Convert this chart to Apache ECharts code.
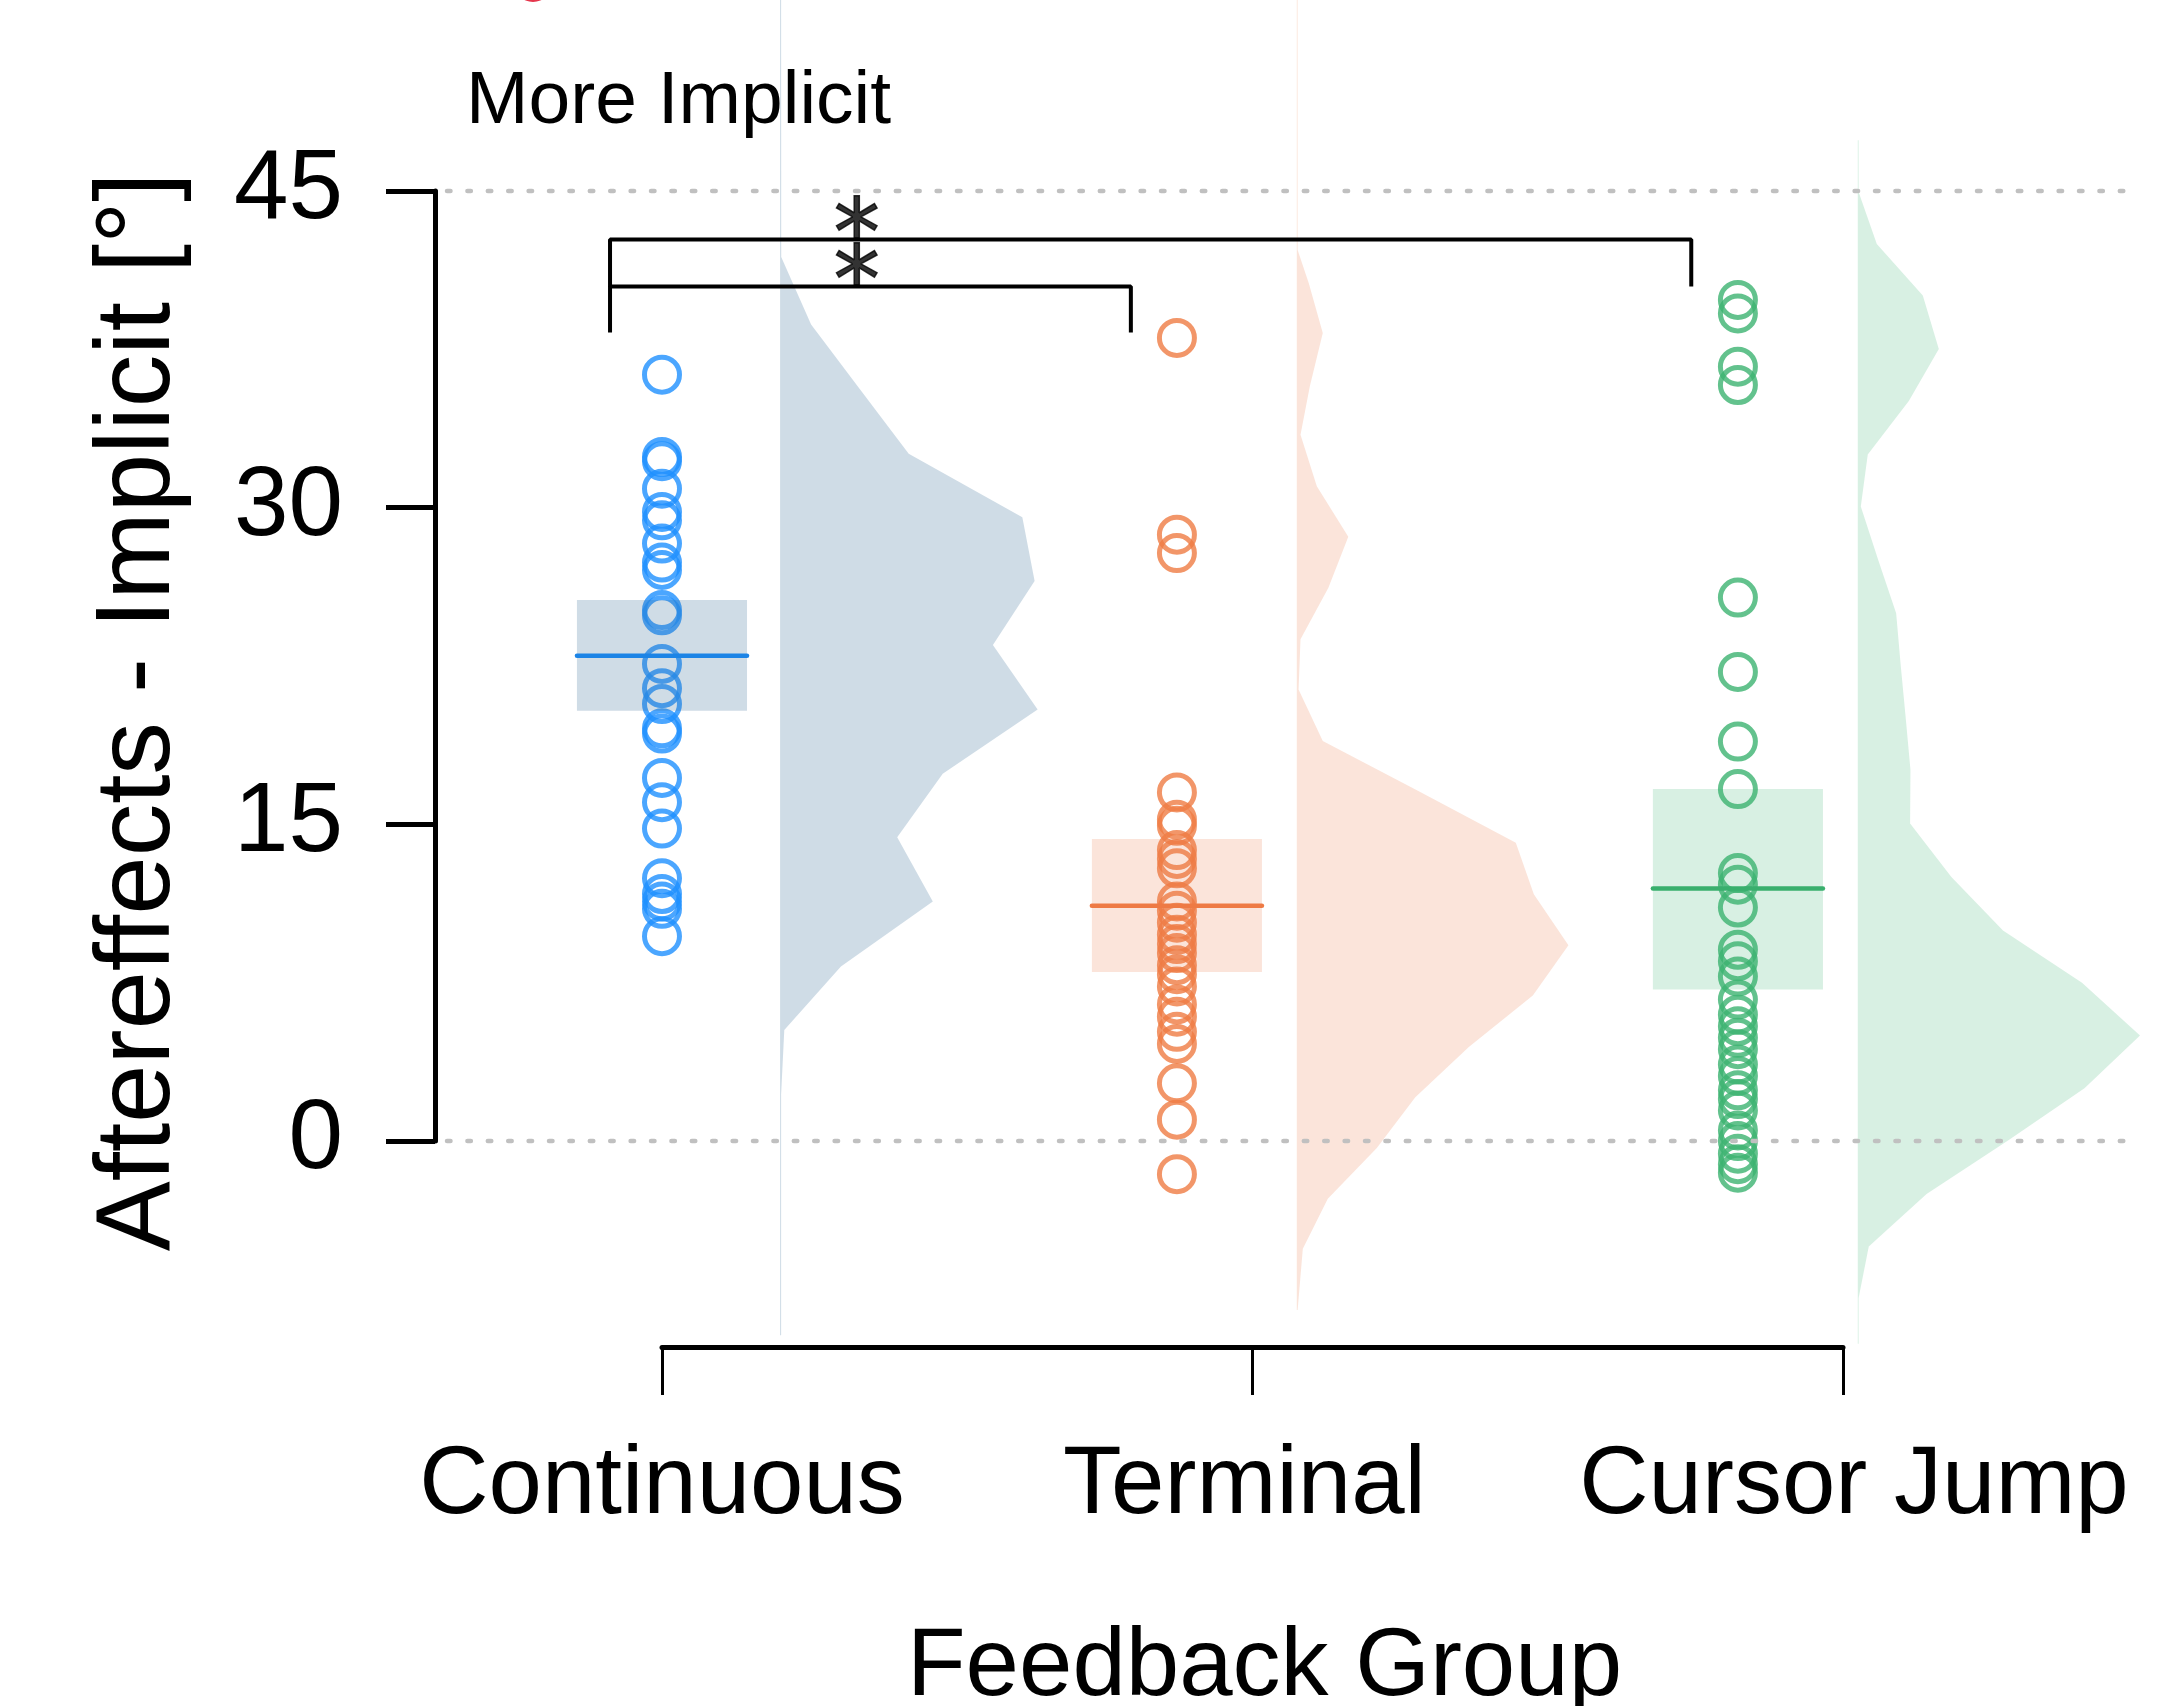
<!DOCTYPE html>
<html>
<head>
<meta charset="utf-8">
<script src="https://cdn.jsdelivr.net/npm/echarts@6/dist/echarts.min.js"></script>
<style>
html,body{margin:0;padding:0;background:#fff;}
#chart{width:2158px;height:1706px;}
</style>
</head>
<body>
<div id="chart"></div>
<script>
// ---------------- data ----------------
const categories = ['Continuous', 'Terminal', 'Cursor Jump'];
const yTickMin = 0, yTickMax = 45, yTickStep = 15;

// x positions (on the value scale where the axis ticks sit at 1, 2, 3)
const groupX = [1.0, 1.872, 2.822];
const densityBaseX = [1.2, 2.075, 3.025];

const continuousValues = [36.3, 32.4, 32.2, 30.9, 29.8, 29.4, 28.3, 27.4, 27.05, 25.15, 24.9, 22.6,
  21.45, 20.7, 19.55, 19.3, 17.2, 16.05, 14.8, 12.45, 11.7, 11.35, 11.0, 9.7];
const terminalValues = [38.04, 28.72, 27.85, 16.51, 15.22, 14.93, 13.78, 13.36, 12.92, 11.35, 10.91,
  10.34, 9.77, 9.33, 8.9, 8.33, 7.9, 7.32, 6.47, 5.89, 5.17, 4.6, 2.73, 1.01, -1.57];
const cursorJumpValues = [39.84, 39.2, 36.68, 35.81, 25.74, 22.22, 18.92, 16.67, 12.69, 12.14, 11.06,
  9.06, 8.52, 7.79, 6.7, 5.98, 5.44, 4.89, 4.35, 3.62, 3.08, 2.4, 1.99, 1.45, 0.5, 0.0, -0.6, -1.1, -1.5];

const groupMeans = [22.98, 11.14, 11.96];
const ciLower = [20.38, 8.0, 7.18];
const ciUpper = [25.63, 14.3, 16.67];

// density outlines: y values and widths (in x-scale units)
const continuousDensityY = [54.05, 41.87, 38.68, 35.6, 32.55, 29.54, 26.53, 23.49, 20.44, 17.4, 14.39, 11.35, 8.26, 5.26, 2.2, -9.2];
const continuousDensityW = [0.0017, 0.0019, 0.0525, 0.1355, 0.2178, 0.4102, 0.4310, 0.3604, 0.4361, 0.2754, 0.1983, 0.2586, 0.1030, 0.0071, 0.0017, 0.0017];
const terminalDensityY = [54.05, 42.2, 40.63, 38.27, 35.74, 33.45, 31.01, 28.62, 26.21, 23.77, 21.39, 18.95, 16.57, 14.13, 11.69, 9.27, 6.89, 4.45, 2.07, -0.33, -2.73, -5.1, -8.0];
const terminalDensityW = [0.0014, 0.0014, 0.0203, 0.0440, 0.0220, 0.0063, 0.0339, 0.0872, 0.0535, 0.0063, 0.0030, 0.0440, 0.2066, 0.3709, 0.4014, 0.4600, 0.3997, 0.2913, 0.2007, 0.1355, 0.0525, 0.0102, 0.0014];
const cursorDensityY = [47.4, 44.95, 42.49, 40.05, 37.52, 35.05, 32.52, 30.06, 27.5, 25.0, 22.5, 20.0, 17.58, 15.04, 12.5, 9.97, 7.5, 5.0, 2.5, 0.05, -2.51, -5.0, -7.44, -9.6];
const cursorDensityW = [0.0014, 0.0014, 0.0322, 0.1101, 0.1372, 0.0864, 0.0169, 0.0051, 0.0349, 0.0650, 0.0728, 0.0813, 0.0892, 0.0886, 0.1585, 0.2459, 0.3797, 0.4779, 0.3839, 0.2557, 0.1165, 0.0186, 0.0014, 0.0014];

// significance brackets and reference lines
const bracketUpper = [[0.912, 38.3], [0.912, 42.7], [2.743, 42.7], [2.743, 40.48]];
const bracketLower = [[0.912, 40.48], [1.794, 40.48], [1.794, 38.3]];
const starMarks = [[1.33, 42.7], [1.33, 40.48]];
const refLineValues = [0, 45];
const refLineSpan = [0.6156, 3.487];

// ---------------- styles ----------------
const FONT = '"Liberation Sans", Arial, Helvetica, sans-serif';
const pointColors = ['#1E90FF', '#EF7C44', '#3CB371'];
const meanColors = ['#1C84E6', '#EE7A44', '#39AF6D'];
const fillColors = ['rgba(63,114,155,0.25)', 'rgba(235,120,70,0.2)', 'rgba(60,179,113,0.2)'];
const groupValues = [continuousValues, terminalValues, cursorJumpValues];
const densities = [[continuousDensityY, continuousDensityW], [terminalDensityY, terminalDensityW], [cursorDensityY, cursorDensityW]];
const boxHalf = 0.144;
const labelStyleKeys = ['c0', 'c1', 'c2'];

const series = [];

densities.forEach(function (d, idx) {
  const ys = d[0], ws = d[1];
  series.push({
    type: 'custom', xAxisIndex: 0, yAxisIndex: 0, z: 1, silent: true,
    data: [[densityBaseX[idx], ys[0]]],
    renderItem: function (params, api) {
      const base = densityBaseX[idx];
      const pts = [api.coord([base, ys[0]])];
      for (let i = 0; i < ys.length; i++) pts.push(api.coord([base + ws[i], ys[i]]));
      pts.push(api.coord([base, ys[ys.length - 1]]));
      return { type: 'polygon', shape: { points: pts }, style: { fill: fillColors[idx], stroke: null } };
    }
  });
});

groupValues.forEach(function (vals, idx) {
  series.push({
    type: 'scatter', xAxisIndex: 0, yAxisIndex: 0, z: 2, silent: true,
    symbol: 'circle', symbolSize: 35,
    itemStyle: { color: 'rgba(0,0,0,0)', borderColor: pointColors[idx], borderWidth: 5 },
    data: vals.map(function (v) { return [groupX[idx], v]; })
  });
});

series.push({
  type: 'custom', xAxisIndex: 0, yAxisIndex: 0, z: 3, silent: true,
  data: groupX.map(function (x, i) { return [x, ciLower[i], ciUpper[i], groupMeans[i], i]; }),
  renderItem: function (params, api) {
    const x = api.value(0), lo = api.value(1), hi = api.value(2), m = api.value(3), i = api.value(4);
    const p1 = api.coord([x - boxHalf, hi]);
    const p2 = api.coord([x + boxHalf, lo]);
    const m1 = api.coord([x - boxHalf, m]);
    const m2 = api.coord([x + boxHalf, m]);
    return {
      type: 'group',
      children: [
        { type: 'rect', shape: { x: p1[0], y: p1[1], width: p2[0] - p1[0], height: p2[1] - p1[1] }, style: { fill: fillColors[i] } },
        { type: 'line', shape: { x1: m1[0], y1: m1[1], x2: m2[0], y2: m2[1] }, style: { stroke: meanColors[i], lineWidth: 4.5, lineCap: 'round' } }
      ]
    };
  }
});

refLineValues.forEach(function (v) {
  series.push({
    type: 'line', xAxisIndex: 0, yAxisIndex: 0, z: 6, silent: true, symbol: 'none',
    data: [[refLineSpan[0], v], [refLineSpan[1], v]],
    lineStyle: { color: '#C0C0C0', width: 4.5, type: [3.5, 16.9], cap: 'round', dashOffset: -12 }
  });
});

[bracketUpper, bracketLower].forEach(function (b) {
  series.push({
    type: 'line', xAxisIndex: 0, yAxisIndex: 0, z: 7, silent: true, symbol: 'none',
    data: b, lineStyle: { color: '#000', width: 4 }
  });
});

series.push({
  type: 'scatter', xAxisIndex: 0, yAxisIndex: 0, z: 8, silent: true,
  symbolSize: 1, itemStyle: { color: 'rgba(0,0,0,0)' },
  data: starMarks,
  label: { show: true, position: 'inside', formatter: '*', fontSize: 92, fontWeight: 'normal', color: '#000',
    fontFamily: '"DejaVu Sans", sans-serif', offset: [0, 2], textBorderColor: '#000', textBorderWidth: 1.5 }
});

const option = {
  animation: false,
  backgroundColor: '#ffffff',
  title: {
    text: 'More Implicit', left: 466, top: 65, padding: 0,
    textStyle: { fontSize: 75, fontWeight: 'normal', color: '#000', fontFamily: FONT }
  },
  grid: [
    { left: 435, right: 0, top: 0, bottom: 282, outerBoundsMode: 'none', containLabel: false },
    { left: 435, width: 100, top: 191, bottom: 565, outerBoundsMode: 'none', containLabel: false },
    { left: 662, right: 315, top: 1300, bottom: 359, outerBoundsMode: 'none', containLabel: false }
  ],
  xAxis: [
    { gridIndex: 0, type: 'value', min: 0.6156, max: 3.5334, show: false },
    { gridIndex: 1, type: 'value', min: 0, max: 1, show: false },
    {
      gridIndex: 2, type: 'category', data: categories, boundaryGap: false, position: 'bottom',
      axisLine: { onZero: false, lineStyle: { color: '#000', width: 5 } },
      axisTick: { interval: 0, length: 48, lineStyle: { color: '#000', width: 3 } },
      axisLabel: {
        interval: 0, fontSize: 96, color: '#000', margin: 92, fontFamily: FONT,
        formatter: function (v, i) { return '{' + labelStyleKeys[i] + '|' + v + '}'; },
        rich: {
          c0: { fontSize: 96, fontFamily: FONT, color: '#000' },
          c1: { fontSize: 96, fontFamily: FONT, color: '#000', padding: [0, 16, 0, 0] },
          c2: { fontSize: 96, fontFamily: FONT, color: '#000', padding: [0, 0, 0, 22] }
        }
      },
      splitLine: { show: false },
      name: 'Feedback Group', nameLocation: 'middle', nameGap: 274,
      nameTextStyle: { fontSize: 96, color: '#000', fontFamily: FONT, padding: [0, 0, 0, 24] }
    }
  ],
  yAxis: [
    {
      gridIndex: 0, type: 'value', min: -13.405, max: 54.047,
      axisLine: { show: false, onZero: false }, axisTick: { show: false }, axisLabel: { show: false }, splitLine: { show: false },
      name: 'Aftereffects - Implicit [°]', nameLocation: 'middle', nameGap: 242,
      nameTextStyle: { fontSize: 105, color: '#000', fontFamily: FONT }
    },
    {
      gridIndex: 1, type: 'value', min: yTickMin, max: yTickMax, interval: yTickStep,
      axisLine: { show: true, onZero: false, lineStyle: { color: '#000', width: 5 } },
      axisTick: { show: true, length: 49, lineStyle: { color: '#000', width: 5 } },
      axisLabel: { fontSize: 98, color: '#000', margin: 92, fontFamily: FONT },
      splitLine: { show: false }
    },
    { gridIndex: 2, type: 'value', min: 0, max: 1, show: false }
  ],
  graphic: [
    { type: 'circle', shape: { cx: 533, cy: -17, r: 19 }, style: { fill: '#E5364C' }, silent: true }
  ],
  series: series
};

const chart = echarts.init(document.getElementById('chart'), null, { renderer: 'canvas' });
chart.setOption(option);
</script>
</body>
</html>
